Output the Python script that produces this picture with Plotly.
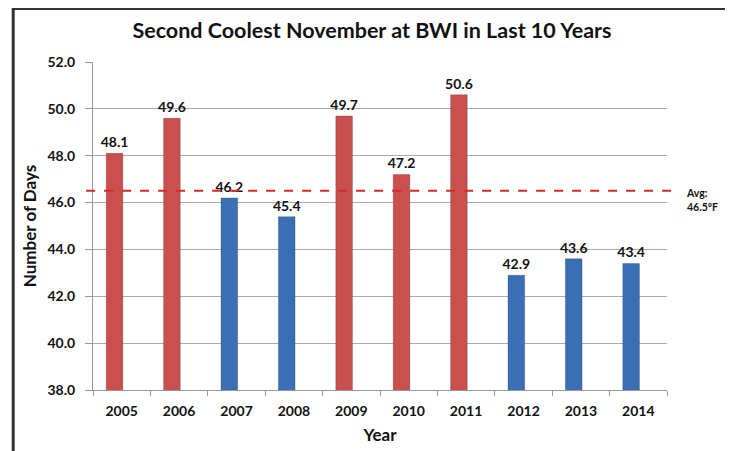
import plotly.graph_objects as go

years = ["2005", "2006", "2007", "2008", "2009", "2010", "2011", "2012", "2013", "2014"]
temps = [48.1, 49.6, 46.2, 45.4, 49.7, 47.2, 50.6, 42.9, 43.6, 43.4]
avg = 46.5
y_ticks = [38, 40, 42, 44, 46, 48, 50, 52]

RED = "#C9504F"
BLUE = "#3A6FB6"
colors = [RED if t > avg else BLUE for t in temps]
FONT = "Lato, Carlito, 'Liberation Sans', sans-serif"

fig = go.Figure()
fig.add_trace(go.Bar(
    x=years, y=temps,
    marker=dict(color=colors, line=dict(color="rgba(0,0,0,0.2)", width=1)),
    width=0.29, offset=-0.27,
    text=[f"<b>{t:.1f}</b>" for t in temps], textposition="outside",
    constraintext="none",
    textfont=dict(family=FONT, size=14, color="#111111"),
    cliponaxis=False,
))

fig.add_shape(type="line", xref="paper", yref="y", x0=-0.012, x1=1.017, y0=avg, y1=avg,
              line=dict(color="#D42A2A", width=2, dash="dash"))
fig.add_annotation(xref="paper", yref="y", x=1.029, y=avg, xanchor="left", yanchor="top",
                   yshift=6,
                   text="<b>Avg:<br>46.5ºF</b>", showarrow=False, align="left",
                   font=dict(family=FONT, size=10.5, color="#111111"))
fig.add_shape(type="rect", xref="paper", yref="paper", x0=-0.139, x1=1.106, y0=-0.3, y1=1.163,
              line=dict(color="#333333", width=3), fillcolor="rgba(0,0,0,0)", layer="below")

fig.update_layout(
    width=725, height=443,
    margin=dict(l=85, r=66, t=54, b=61, autoexpand=False),
    paper_bgcolor="white", plot_bgcolor="white",
    showlegend=False,
    title=dict(text="<b>Second Coolest November at BWI in Last 10 Years</b>",
               x=0.486, xref="paper", xanchor="center", y=0.950, yanchor="middle",
               font=dict(family=FONT, size=21.5, color="#111111")),
    font=dict(family=FONT, color="#111111"),
)
fig.update_xaxes(
    type="category", showline=True, linecolor="#999999", linewidth=1, automargin=False,
    ticks="outside", ticklen=5, tickcolor="#999999", tickson="boundaries",
    ticklabelstandoff=8,
    tickfont=dict(family=FONT, size=14, color="#111111"),
    tickprefix="<b>", ticksuffix="</b>",
    title=dict(text="<b>Year</b>", font=dict(family=FONT, size=17, color="#111111"), standoff=11),
)
fig.update_yaxes(
    range=[38, 52], tickvals=y_ticks,
    ticktext=[f"<b>{v:.1f}</b>" for v in y_ticks],
    showline=True, linecolor="#999999", linewidth=1, automargin=False,
    ticks="outside", ticklen=7, tickcolor="#999999",
    ticklabelstandoff=7,
    showgrid=True, gridcolor="#AAAAAA", gridwidth=1, zeroline=False,
    tickfont=dict(family=FONT, size=14, color="#111111"),
    title=dict(text="<b>Number of Days</b>", font=dict(family=FONT, size=17, color="#111111"), standoff=6),
)

fig.write_html("out.html")
